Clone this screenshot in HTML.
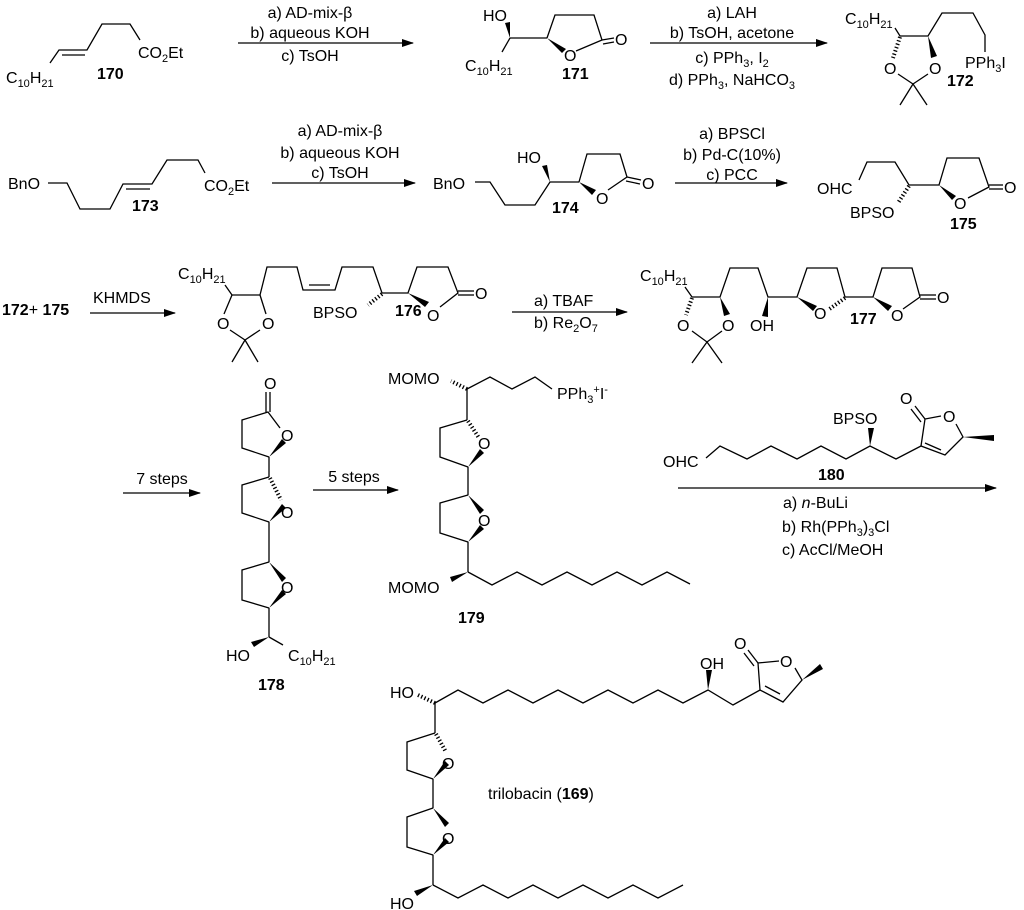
<!DOCTYPE html>
<html><head><meta charset="utf-8"><style>
html,body{margin:0;padding:0;background:#fff}
svg{display:block}
text{font-family:"Liberation Sans",sans-serif;font-size:16px;fill:#000}
.b{font-weight:bold}
.s{font-size:11px}
line,polyline,polygon.r{stroke:#000;stroke-width:1.3;fill:none}
polygon.w{fill:#000;stroke:none}
.h{stroke:#000;stroke-width:4;stroke-dasharray:1.3 2.2;fill:none}
</style></head><body>
<svg width="1024" height="910" viewBox="0 0 1024 910" xmlns="http://www.w3.org/2000/svg">
<defs><marker id="a" markerWidth="12" markerHeight="8" refX="11" refY="4" orient="auto" markerUnits="userSpaceOnUse"><polygon points="0,0 12,4 0,8" fill="#000"/></marker></defs>

<!-- 170 -->
<text x="6" y="83">C<tspan class="s" dy="4">10</tspan><tspan dy="-4">H</tspan><tspan class="s" dy="4">21</tspan></text>
<polyline points="50,63 59,50 87,50 102,24 130,24 140,40"/>
<line x1="62" y1="55" x2="85" y2="55"/>
<text x="138" y="58">CO<tspan class="s" dy="4">2</tspan><tspan dy="-4">Et</tspan></text>
<text x="97" y="79" class="b">170</text>
<line x1="238" y1="43" x2="413" y2="43" marker-end="url(#a)"/>
<text x="310" y="18" text-anchor="middle">a) AD-mix-β</text>
<text x="310" y="38" text-anchor="middle">b) aqueous KOH</text>
<text x="310" y="61" text-anchor="middle">c) TsOH</text>

<!-- 171 -->
<text x="483" y="21">HO</text>
<polygon class="w" points="505,23 510,22 510,38"/>
<text x="465" y="71">C<tspan class="s" dy="4">10</tspan><tspan dy="-4">H</tspan><tspan class="s" dy="4">21</tspan></text>
<line x1="510" y1="38" x2="502" y2="52"/>
<line x1="510" y1="38" x2="547" y2="38"/>
<polyline points="547,38 555,15 594,15 602,40 576,51"/>
<polygon class="w" points="547,38 566,49 562,53"/>
<text x="564" y="61">O</text>
<line x1="602" y1="40" x2="614" y2="38"/><line x1="603" y1="44" x2="614" y2="42"/>
<text x="615" y="45">O</text>
<text x="562" y="79" class="b">171</text>
<line x1="650" y1="43" x2="827" y2="43" marker-end="url(#a)"/>
<text x="732" y="18" text-anchor="middle">a) LAH</text>
<text x="732" y="38" text-anchor="middle">b) TsOH, acetone</text>
<text x="732" y="63" text-anchor="middle">c) PPh<tspan class="s" dy="4">3</tspan><tspan dy="-4">, I</tspan><tspan class="s" dy="4">2</tspan></text>
<text x="732" y="85" text-anchor="middle">d) PPh<tspan class="s" dy="4">3</tspan><tspan dy="-4">, NaHCO</tspan><tspan class="s" dy="4">3</tspan></text>

<!-- 172 -->
<text x="845" y="24">C<tspan class="s" dy="4">10</tspan><tspan dy="-4">H</tspan><tspan class="s" dy="4">21</tspan></text>
<polyline points="895,28 900,36 928,36 942,13 973,13 985,35 985,52"/>
<line class="h" x1="900" y1="37" x2="893" y2="58"/>
<polygon class="w" points="928,36 931,58 937,56"/>
<text x="884" y="74">O</text><text x="929" y="74">O</text>
<polyline points="898,74 913,84 928,74"/>
<line x1="913" y1="84" x2="900" y2="105"/><line x1="913" y1="84" x2="927" y2="105"/>
<text x="965" y="68">PPh<tspan class="s" dy="4">3</tspan><tspan dy="-4">I</tspan></text>
<text x="947" y="86" class="b">172</text>

<!-- 173 -->
<text x="8" y="189">BnO</text>
<polyline points="48,183 67,183 80,209 110,209 123,184 152,184 167,160 198,160 205,173"/>
<line x1="126" y1="189" x2="150" y2="189"/>
<text x="204" y="191">CO<tspan class="s" dy="4">2</tspan><tspan dy="-4">Et</tspan></text>
<text x="132" y="211" class="b">173</text>
<line x1="272" y1="183" x2="415" y2="183" marker-end="url(#a)"/>
<text x="340" y="136" text-anchor="middle">a) AD-mix-β</text>
<text x="340" y="158" text-anchor="middle">b) aqueous KOH</text>
<text x="340" y="178" text-anchor="middle">c) TsOH</text>

<!-- 174 -->
<text x="433" y="189">BnO</text>
<polyline points="475,182 490,182 505,205 535,205 550,182 579,182"/>
<text x="517" y="163">HO</text>
<polygon class="w" points="542,166 547,165 550,182"/>
<polyline points="579,182 587,154 620,154 627,177 608,190"/>
<polygon class="w" points="579,182 596,190 592,195"/>
<text x="596" y="204">O</text>
<line x1="627" y1="177" x2="641" y2="180"/><line x1="626" y1="181" x2="640" y2="184"/>
<text x="642" y="189">O</text>
<text x="552" y="213" class="b">174</text>
<line x1="675" y1="183" x2="787" y2="183" marker-end="url(#a)"/>
<text x="732" y="139" text-anchor="middle">a) BPSCl</text>
<text x="732" y="160" text-anchor="middle">b) Pd-C(10%)</text>
<text x="732" y="180" text-anchor="middle">c) PCC</text>

<!-- 175 -->
<text x="817" y="194">OHC</text>
<polyline points="859,180 867,162 895,162 909,185 939,185 947,158 979,158 989,187 968,198"/>
<line class="h" x1="909" y1="186" x2="898" y2="203"/>
<text x="850" y="218">BPSO</text>
<polygon class="w" points="939,185 956,196 952,200"/>
<text x="954" y="209">O</text>
<line x1="989" y1="185" x2="1003" y2="185"/><line x1="989" y1="189" x2="1003" y2="189"/>
<text x="1004" y="193">O</text>
<text x="950" y="229" class="b">175</text>

<!-- row 3 -->
<text x="2" y="315" class="b">172<tspan font-weight="normal">+</tspan> 175</text>
<line x1="90" y1="313" x2="175" y2="313" marker-end="url(#a)"/>
<text x="93" y="303">KHMDS</text>
<!-- 176 -->
<text x="178" y="279">C<tspan class="s" dy="4">10</tspan><tspan dy="-4">H</tspan><tspan class="s" dy="4">21</tspan></text>
<polyline points="225,285 232,295 260,295 267,267 297,267 303,290 335,290 342,267 373,267 382,293 408,293 417,267 448,267 458,293 440,307"/>
<line x1="309" y1="285" x2="330" y2="285"/>
<line x1="232" y1="295" x2="224" y2="314"/><line x1="260" y1="295" x2="266" y2="314"/>
<text x="217" y="329">O</text><text x="262" y="329">O</text>
<polyline points="230,330 245,340 260,330"/>
<line x1="245" y1="340" x2="232" y2="362"/><line x1="245" y1="340" x2="258" y2="362"/>
<line class="h" x1="382" y1="294" x2="368" y2="305"/>
<text x="313" y="318">BPSO</text>
<polygon class="w" points="408,293 429,302 425,307"/>
<text x="427" y="321">O</text>
<text x="395" y="316" class="b">176</text>
<line x1="458" y1="291" x2="474" y2="291"/><line x1="458" y1="295" x2="474" y2="295"/>
<text x="475" y="299">O</text>
<line x1="512" y1="312" x2="627" y2="312" marker-end="url(#a)"/>
<text x="534" y="306">a) TBAF</text>
<text x="534" y="328">b) Re<tspan class="s" dy="4">2</tspan><tspan dy="-4">O</tspan><tspan class="s" dy="4">7</tspan></text>
<!-- 177 -->
<text x="640" y="281">C<tspan class="s" dy="4">10</tspan><tspan dy="-4">H</tspan><tspan class="s" dy="4">21</tspan></text>
<polyline points="685,287 692,297 720,297 730,268 758,268 768,297 797,297 807,268 837,268 845,297 873,297 882,268 912,268 920,297 903,309"/>
<line class="h" x1="692" y1="298" x2="686" y2="315"/>
<polygon class="w" points="720,297 724,316 730,314"/>
<text x="677" y="331">O</text><text x="722" y="331">O</text>
<polyline points="692,331 707,342 722,331"/>
<line x1="707" y1="342" x2="692" y2="363"/><line x1="707" y1="342" x2="722" y2="363"/>
<polygon class="w" points="768,297 762,316 768,317"/>
<text x="750" y="331">OH</text>
<polygon class="w" points="797,297 817,306 813,311"/>
<line class="h" x1="845" y1="298" x2="828" y2="310"/>
<text x="814" y="319">O</text>
<polygon class="w" points="873,297 892,306 888,311"/>
<text x="891" y="321">O</text>
<text x="850" y="324" class="b">177</text>
<line x1="920" y1="295" x2="936" y2="295"/><line x1="920" y1="299" x2="936" y2="299"/>
<text x="937" y="303">O</text>

<!-- 178 -->
<line x1="123" y1="493" x2="200" y2="493" marker-end="url(#a)"/>
<text x="162" y="484" text-anchor="middle">7 steps</text>
<text x="264" y="389">O</text>
<line x1="266" y1="392" x2="266" y2="412"/><line x1="270" y1="392" x2="270" y2="412"/>
<polyline points="280,428 268,412 242,420 242,448 269,457"/>
<polygon class="w" points="269,457 282,439 286,443"/>
<text x="281" y="441">O</text>
<line x1="269" y1="457" x2="269" y2="477"/>
<polyline points="269,477 242,485 242,513 269,522"/>
<line class="h" x1="270" y1="478" x2="281" y2="500"/>
<polygon class="w" points="269,522 282,504 286,508"/>
<text x="281" y="518">O</text>
<line x1="269" y1="522" x2="269" y2="562"/>
<polyline points="269,562 242,570 242,600 269,608"/>
<polygon class="w" points="269,562 286,578 282,582"/>
<polygon class="w" points="269,608 282,590 286,594"/>
<text x="281" y="593">O</text>
<line x1="269" y1="608" x2="269" y2="637"/>
<polygon class="w" points="269,637 254,647 251,642"/>
<line x1="269" y1="637" x2="283" y2="645"/>
<text x="226" y="661">HO</text>
<text x="288" y="661">C<tspan class="s" dy="4">10</tspan><tspan dy="-4">H</tspan><tspan class="s" dy="4">21</tspan></text>
<text x="258" y="690" class="b">178</text>

<!-- 179 -->
<line x1="313" y1="490" x2="398" y2="490" marker-end="url(#a)"/>
<text x="354" y="482" text-anchor="middle">5 steps</text>
<text x="388" y="384">MOMO</text>
<line class="h" x1="467" y1="389" x2="451" y2="381"/>
<polyline points="467,389 490,377 512,389 535,377 552,389"/>
<text x="557" y="399">PPh<tspan class="s" dy="4">3</tspan><tspan class="s" dy="-10">+</tspan><tspan dy="6">I</tspan><tspan class="s" dy="-6">-</tspan></text>
<line x1="467" y1="389" x2="467" y2="420"/>
<polyline points="467,420 440,428 440,457 468,467"/>
<line class="h" x1="468" y1="421" x2="479" y2="438"/>
<polygon class="w" points="468,467 480,449 484,453"/>
<text x="478" y="449">O</text>
<line x1="468" y1="467" x2="468" y2="495"/>
<polyline points="468,495 440,503 440,533 468,542"/>
<polygon class="w" points="468,495 484,510 480,514"/>
<polygon class="w" points="468,542 480,525 484,529"/>
<text x="478" y="526">O</text>
<line x1="468" y1="542" x2="468" y2="572"/>
<polygon class="w" points="468,572 452,582 450,577"/>
<text x="388" y="593">MOMO</text>
<polyline points="468,572 492,585 517,572 542,585 567,572 592,585 617,572 642,585 667,572 690,584"/>
<text x="458" y="623" class="b">179</text>

<!-- 180 -->
<text x="663" y="467">OHC</text>
<polyline points="706,458 720,446 747,459 771,446 797,459 821,446 846,459 870,446 896,459 921,446 945,455 963,437 956,424"/>
<polygon class="w" points="870,446 868,428 874,428"/>
<text x="833" y="424">BPSO</text>
<text x="818" y="480" class="b">180</text>
<line x1="925" y1="443" x2="941" y2="450"/>
<polyline points="921,446 925,419 941,416"/>
<text x="943" y="422">O</text>
<line x1="925" y1="419" x2="915" y2="406"/><line x1="921" y1="422" x2="911" y2="409"/>
<text x="900" y="404">O</text>
<polygon class="w" points="963,437 994,435 994,441"/>
<line x1="678" y1="488" x2="996" y2="488" marker-end="url(#a)"/>
<text x="783" y="508">a) <tspan font-style="italic">n</tspan>-BuLi</text>
<text x="782" y="532">b) Rh(PPh<tspan class="s" dy="4">3</tspan><tspan dy="-4">)</tspan><tspan class="s" dy="4">3</tspan><tspan dy="-4">Cl</tspan></text>
<text x="782" y="555">c) AcCl/MeOH</text>

<!-- trilobacin -->
<text x="390" y="698">HO</text>
<line class="h" x1="435" y1="703" x2="418" y2="695"/>
<polyline points="435,703 458,690 483,703 508,690 533,703 558,690 583,703 608,690 633,703 658,690 683,703 708,690 733,705 760,690 783,702 802,680 795,668"/>
<line x1="765" y1="686" x2="780" y2="694"/>
<polygon class="w" points="708,690 706,670 712,670"/>
<text x="700" y="669">OH</text>
<polyline points="779,661 758,663 760,690"/>
<text x="780" y="667">O</text>
<line x1="758" y1="663" x2="748" y2="650"/><line x1="754" y1="666" x2="744" y2="653"/>
<text x="734" y="649">O</text>
<polygon class="w" points="802,680 820,664 823,669"/>
<line x1="435" y1="703" x2="435" y2="733"/>
<polyline points="435,733 407,742 407,770 433,779"/>
<line class="h" x1="436" y1="734" x2="446" y2="752"/>
<polygon class="w" points="433,779 445,761 449,765"/>
<text x="442" y="769">O</text>
<line x1="433" y1="779" x2="433" y2="808"/>
<polyline points="433,808 407,817 407,847 433,855"/>
<polygon class="w" points="433,808 449,823 445,827"/>
<polygon class="w" points="433,855 445,838 449,842"/>
<text x="442" y="844">O</text>
<line x1="433" y1="855" x2="433" y2="885"/>
<polygon class="w" points="433,885 417,896 414,891"/>
<text x="390" y="909">HO</text>
<polyline points="433,885 458,898 483,885 508,898 533,885 558,898 583,885 608,898 633,885 658,898 683,885"/>
<text x="488" y="799">trilobacin (<tspan class="b">169</tspan>)</text>
</svg>
</body></html>
